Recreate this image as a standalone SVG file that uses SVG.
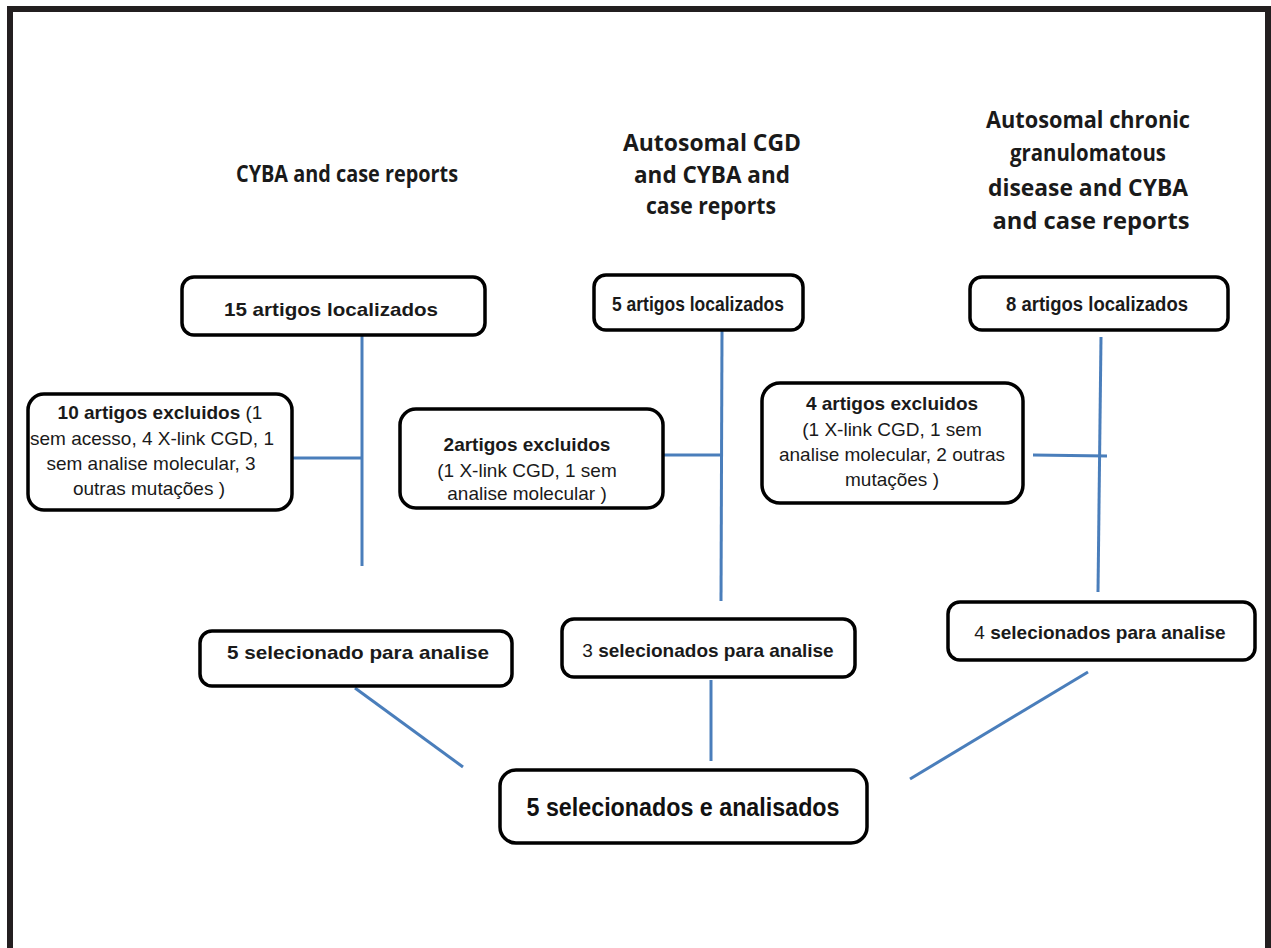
<svg xmlns="http://www.w3.org/2000/svg" width="1271" height="948" viewBox="0 0 1271 948">
  <style>
    .frame { fill: none; stroke: #231f20; stroke-width: 6; }
    .box { fill: #ffffff; stroke: #000000; stroke-width: 3.5; }
    .title { font-family: "Open Sans", "Liberation Sans", sans-serif; font-weight: 700; font-size: 24px; fill: #1a1a1a; text-anchor: middle; }
    .lbl { font-family: "Liberation Sans", Arial, sans-serif; font-size: 19px; fill: #1a1a1a; text-anchor: middle; }
    .b { font-weight: bold; }
    .big { font-family: "Liberation Sans", Arial, sans-serif; font-weight: bold; font-size: 26px; fill: #111111; text-anchor: middle; }
    .conn line { stroke: #4a7ebb; stroke-width: 3; stroke-linecap: butt; }
  </style>

  <rect width="1271" height="948" fill="#ffffff"/>
  <!-- open frame: top, left and right edges -->
  <path class="frame" d="M10,948 V9 H1268 V948"/>

  <!-- search-term headings -->
  <g id="title-cyba">
    <text class="title" x="347" y="182" textLength="222" lengthAdjust="spacingAndGlyphs">CYBA and case reports</text>
  </g>
  <g id="title-autosomal-cgd">
    <text class="title" x="712" y="151" textLength="178" lengthAdjust="spacingAndGlyphs">Autosomal CGD</text>
    <text class="title" x="712" y="183" textLength="156" lengthAdjust="spacingAndGlyphs">and CYBA and</text>
    <text class="title" x="711" y="214" textLength="130" lengthAdjust="spacingAndGlyphs">case reports</text>
  </g>
  <g id="title-autosomal-chronic">
    <text class="title" x="1088" y="128" textLength="204" lengthAdjust="spacingAndGlyphs">Autosomal chronic</text>
    <text class="title" x="1088" y="161" textLength="156" lengthAdjust="spacingAndGlyphs">granulomatous</text>
    <text class="title" x="1088" y="196" textLength="200" lengthAdjust="spacingAndGlyphs">disease and CYBA</text>
    <text class="title" x="1091" y="229" textLength="197" lengthAdjust="spacingAndGlyphs">and case reports</text>
  </g>

  <!-- connectors -->
  <g id="connectors" class="conn">
    <line x1="362" y1="336" x2="362" y2="566"/>
    <line x1="292" y1="458" x2="362" y2="458"/>
    <line x1="722" y1="331" x2="721" y2="601"/>
    <line x1="663" y1="455" x2="722" y2="455"/>
    <line x1="1101" y1="337" x2="1098" y2="592"/>
    <line x1="1033" y1="455" x2="1107" y2="456"/>
    <line x1="355" y1="688" x2="463" y2="767"/>
    <line x1="711" y1="680" x2="711" y2="761"/>
    <line x1="1088" y1="672" x2="910" y2="779"/>
  </g>

  <!-- found -->
  <g id="found-15">
    <rect class="box" x="182" y="277" width="303" height="58" rx="12"/>
    <text class="lbl b" x="331" y="316" textLength="214" lengthAdjust="spacingAndGlyphs">15 artigos localizados</text>
  </g>
  <g id="found-5">
    <rect class="box" x="594" y="275" width="209" height="55" rx="12"/>
    <text class="lbl b" x="698" y="311" style="font-size:20px" textLength="172" lengthAdjust="spacingAndGlyphs">5 artigos localizados</text>
  </g>
  <g id="found-8">
    <rect class="box" x="970" y="277" width="258" height="53" rx="12"/>
    <text class="lbl b" x="1097" y="311" style="font-size:20px" textLength="182" lengthAdjust="spacingAndGlyphs">8 artigos localizados</text>
  </g>

  <!-- excluded -->
  <g id="excluded-10">
    <rect class="box" x="28" y="394" width="264" height="116" rx="16"/>
    <text class="lbl" x="160" y="419"><tspan class="b">10 artigos excluidos</tspan> (1</text>
    <text class="lbl" x="152" y="445">sem acesso, 4 X-link CGD, 1</text>
    <text class="lbl" x="151" y="470">sem analise molecular, 3</text>
    <text class="lbl" x="149" y="495">outras mutações )</text>
  </g>
  <g id="excluded-2">
    <rect class="box" x="400" y="409" width="263" height="99" rx="16"/>
    <text class="lbl b" x="527" y="451">2artigos excluidos</text>
    <text class="lbl" x="527" y="477">(1 X-link CGD, 1 sem</text>
    <text class="lbl" x="527" y="500">analise molecular )</text>
  </g>
  <g id="excluded-4">
    <rect class="box" x="762" y="383" width="261" height="120" rx="18"/>
    <text class="lbl b" x="892" y="410">4 artigos excluidos</text>
    <text class="lbl" x="892" y="436">(1 X-link CGD, 1 sem</text>
    <text class="lbl" x="892" y="461">analise molecular, 2 outras</text>
    <text class="lbl" x="892" y="486">mutações )</text>
  </g>

  <!-- selected -->
  <g id="selected-5">
    <rect class="box" x="200" y="631" width="312" height="55" rx="12"/>
    <text class="lbl b" x="358" y="659" textLength="262" lengthAdjust="spacingAndGlyphs">5 selecionado para analise</text>
  </g>
  <g id="selected-3">
    <rect class="box" x="562" y="619" width="293" height="58" rx="12"/>
    <text class="lbl" x="708" y="657"><tspan>3 </tspan><tspan class="b">selecionados para analise</tspan></text>
  </g>
  <g id="selected-4">
    <rect class="box" x="948" y="602" width="307" height="58" rx="12"/>
    <text class="lbl" x="1100" y="639"><tspan>4 </tspan><tspan class="b">selecionados para analise</tspan></text>
  </g>

  <!-- final result -->
  <g id="final">
    <rect class="box" x="500" y="770" width="367" height="73" rx="16"/>
    <text class="big" x="683" y="816" textLength="313" lengthAdjust="spacingAndGlyphs">5 selecionados e analisados</text>
  </g>
</svg>
